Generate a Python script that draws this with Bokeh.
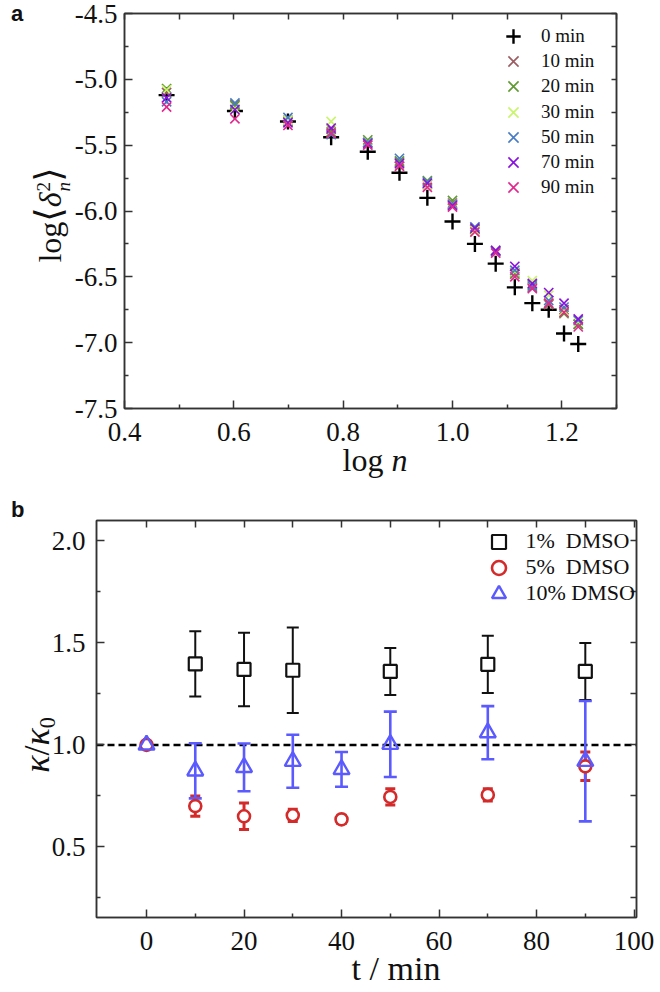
from bokeh.plotting import figure
from bokeh.models import (Range1d, FixedTicker, PrintfTickFormatter, LinearAxis, Legend,
                          LegendItem, Whisker, TeeHead, Span, ColumnDataSource, Div)
from bokeh.embed import file_html
from bokeh.resources import INLINE

# ---------------- panel a data ----------------
log_n = [0.477, 0.602, 0.699, 0.778, 0.845, 0.903, 0.954, 1.000, 1.041, 1.079, 1.114, 1.146, 1.176, 1.204, 1.230]
msd_0min  = [-5.12, -5.24, -5.32, -5.44, -5.55, -5.71, -5.90, -6.08, -6.25, -6.40, -6.58, -6.70, -6.75, -6.93, -7.01]
msd_10min = [-5.10, -5.19, -5.31, -5.38, -5.48, -5.63, -5.80, -5.94, -6.14, -6.30, -6.48, -6.58, -6.71, -6.75, -6.86]
msd_20min = [-5.07, -5.20, -5.32, -5.40, -5.46, -5.62, -5.77, -5.92, -6.14, -6.31, -6.47, -6.56, -6.70, -6.78, -6.86]
msd_30min = [-5.08, -5.22, -5.31, -5.32, -5.48, -5.65, -5.80, -5.95, -6.15, -6.30, -6.46, -6.53, -6.64, -6.76, -6.84]
msd_50min = [-5.17, -5.18, -5.29, -5.42, -5.48, -5.60, -5.78, -5.95, -6.12, -6.31, -6.45, -6.57, -6.68, -6.73, -6.83]
msd_70min = [-5.14, -5.23, -5.33, -5.37, -5.49, -5.64, -5.79, -5.96, -6.13, -6.30, -6.42, -6.55, -6.62, -6.70, -6.82]
msd_90min = [-5.21, -5.30, -5.35, -5.41, -5.50, -5.66, -5.82, -5.97, -6.16, -6.32, -6.50, -6.59, -6.70, -6.77, -6.88]
series_a_labels = ["0 min", "10 min", "20 min", "30 min", "50 min", "70 min", "90 min"]
series_a_colors = ["#000000", "#9c5c62", "#5f9a32", "#c9f56a", "#4a7cc6", "#8a10e0", "#e2288e"]

a_xticks = [0.4, 0.6, 0.8, 1.0, 1.2]
a_xminor = [0.5, 0.7, 0.9, 1.1, 1.3]
a_yticks = [-7.5, -7.0, -6.5, -6.0, -5.5, -5.0, -4.5]
a_yminor = [-7.25, -6.75, -6.25, -5.75, -5.25, -4.75]

# ---------------- panel b data ----------------
t_1pct = [10, 20, 30, 50, 70, 90]
k_1pct = [1.397, 1.370, 1.366, 1.360, 1.395, 1.360]
e_1pct = [0.160, 0.180, 0.210, 0.115, 0.140, 0.140]
t_5pct = [0, 10, 20, 30, 40, 50, 70, 90]
k_5pct = [1.000, 0.700, 0.650, 0.655, 0.635, 0.745, 0.755, 0.895]
e_5pct = [0.000, 0.050, 0.065, 0.030, 0.020, 0.040, 0.030, 0.070]
t_10pct = [0, 10, 20, 30, 40, 50, 70, 90]
k_10pct = [1.000, 0.873, 0.890, 0.920, 0.880, 1.003, 1.060, 0.920]
e_10pct = [0.000, 0.135, 0.117, 0.130, 0.085, 0.160, 0.130, 0.295]
series_b_labels = ["1%\u00a0\u00a0DMSO", "5%\u00a0\u00a0DMSO", "10% DMSO"]

b_xticks = [0, 20, 40, 60, 80, 100]
b_xminor = [10, 30, 50, 70, 90]
b_yticks = [0.5, 1.0, 1.5, 2.0]
b_yminor = [0.25, 0.75, 1.25, 1.75]
reference_level = 1.0

SERIF = "Liberation Serif"
AX = "#333333"
TICK_FS = "27px"


def style_axes(p, lbl_standoff_x, lbl_standoff_y):
    for ax in p.xaxis + p.yaxis:
        ax.axis_line_color = AX
        ax.axis_line_width = 1.5
        ax.major_tick_line_color = AX
        ax.minor_tick_line_color = AX
        ax.major_tick_line_width = 1.5
        ax.minor_tick_line_width = 1.5
        ax.major_tick_in = 8
        ax.major_tick_out = 0
        ax.minor_tick_in = 4
        ax.minor_tick_out = 0
        ax.major_label_text_font = SERIF
        ax.major_label_text_font_size = TICK_FS
        ax.major_label_text_color = "#111111"
    p.xaxis.major_label_standoff = lbl_standoff_x
    p.yaxis.major_label_standoff = lbl_standoff_y
    p.xgrid.visible = False
    p.ygrid.visible = False
    p.outline_line_color = AX
    p.outline_line_width = 1.5


def mirror(p, side, ticks, length):
    ax = LinearAxis(ticker=FixedTicker(ticks=ticks, minor_ticks=[]),
                    major_label_overrides={t: "" for t in ticks},
                    major_label_text_font_size="1px", major_label_standoff=0,
                    major_tick_in=length, major_tick_out=0, minor_tick_in=0, minor_tick_out=0,
                    axis_line_color=AX, axis_line_width=1.5,
                    major_tick_line_color=AX, major_tick_line_width=1.5)
    p.add_layout(ax, side)


def item_legends(p, items, x, y_top, pitch, box, standoff, fs):
    # one small legend per entry, stacked by hand so the symbols can be large
    for i, it in enumerate(items):
        p.add_layout(Legend(items=[it], location=(x, y_top - pitch * i - box / 2),
                            glyph_width=box, glyph_height=box, label_height=box,
                            spacing=0, padding=0, margin=0, label_standoff=standoff,
                            label_text_font=SERIF, label_text_font_size=fs,
                            label_text_color="#111111",
                            border_line_color=None, background_fill_color=None))


# ---------------- panel a ----------------
pa = figure(width=660, height=480, output_backend="svg", toolbar_location=None,
            x_range=Range1d(0.4, 1.3), y_range=Range1d(-7.5, -4.5),
            min_border_left=124, min_border_right=44, min_border_top=13, min_border_bottom=72)
pa.xaxis.ticker = FixedTicker(ticks=a_xticks, minor_ticks=a_xminor)
pa.yaxis.ticker = FixedTicker(ticks=a_yticks, minor_ticks=a_yminor)
pa.xaxis.formatter = PrintfTickFormatter(format="%.1f")
pa.yaxis.formatter = PrintfTickFormatter(format="%.1f")
style_axes(pa, 14, 7)
mirror(pa, "above", sorted(a_xticks + a_xminor), 6)
mirror(pa, "right", sorted(a_yticks + a_yminor), 5)

a_series = [msd_0min, msd_10min, msd_20min, msd_30min, msd_50min, msd_70min, msd_90min]
a_items = []
for i, (vals, name, col) in enumerate(zip(a_series, series_a_labels, series_a_colors)):
    src = ColumnDataSource(dict(x=log_n, y=vals))
    if i == 0:
        r = pa.scatter("x", "y", source=src, marker="cross", size=16, line_width=2.4, line_color=col)
    else:
        r = pa.scatter("x", "y", source=src, marker="x", size=13, line_width=1.6, line_color=col)
    a_items.append(LegendItem(label=name, renderers=[r]))

item_legends(pa, a_items, x=371, y_top=372, pitch=25.2, box=36, standoff=10, fs="19px")

# ---------------- panel b ----------------
pb = figure(width=660, height=510, output_backend="svg", toolbar_location=None,
            x_range=Range1d(-10.26, 100.5), y_range=Range1d(0.154, 2.1),
            min_border_left=96, min_border_right=24, min_border_top=40, min_border_bottom=73)
pb.xaxis.ticker = FixedTicker(ticks=b_xticks, minor_ticks=b_xminor)
pb.yaxis.ticker = FixedTicker(ticks=b_yticks, minor_ticks=b_yminor)
pb.yaxis.formatter = PrintfTickFormatter(format="%.1f")
style_axes(pb, 14, 11)
mirror(pb, "above", sorted(b_xticks + b_xminor), 7)
mirror(pb, "right", sorted(b_yticks + b_yminor), 6)

pb.add_layout(Span(location=reference_level, dimension="width", line_color="#000000",
                   line_width=2.5, line_dash="7 4", level="underlay"))


def whisk(p, ts, ks, es, color, lw, cap):
    sel = [i for i, e in enumerate(es) if e > 0]
    src = ColumnDataSource(dict(t=[ts[i] for i in sel],
                                up=[ks[i] + es[i] for i in sel],
                                lo=[ks[i] - es[i] for i in sel]))
    p.add_layout(Whisker(source=src, base="t", upper="up", lower="lo", dimension="height",
                         line_color=color, line_width=lw, level="underlay",
                         upper_head=TeeHead(size=cap, line_color=color, line_width=lw),
                         lower_head=TeeHead(size=cap, line_color=color, line_width=lw)))


whisk(pb, t_1pct, k_1pct, e_1pct, "#111111", 2.0, 12)
whisk(pb, t_5pct, k_5pct, e_5pct, "#d42a2a", 3.0, 10)
whisk(pb, t_10pct, k_10pct, e_10pct, "#5a5aff", 2.6, 13)

r1 = pb.scatter(t_1pct, k_1pct, marker="square", size=13, line_width=2.2,
                line_color="#111111", fill_color="white")
r5 = pb.scatter(t_5pct, k_5pct, marker="circle", size=12, line_width=2.6,
                line_color="#d42a2a", fill_color="white")
r10 = pb.scatter(t_10pct, k_10pct, marker="triangle", size=16, line_width=2.4,
                 line_color="#5a5aff", fill_alpha=0)

b_items = [LegendItem(label=series_b_labels[0], renderers=[r1]),
           LegendItem(label=series_b_labels[1], renderers=[r5]),
           LegendItem(label=series_b_labels[2], renderers=[r10])]
item_legends(pb, b_items, x=384.5, y_top=376, pitch=26, box=35, standoff=10, fs="22px")

# ---------------- titles and panel letters (HTML text over the canvases) ----------------
FONT = "'Liberation Serif','DejaVu Serif',serif"


def txt(left, top, html, size, extra="", font=FONT, weight="normal"):
    return (f'<div style="position:absolute;left:{left}px;top:{top}px;font-size:{size}px;'
            f'line-height:1;white-space:nowrap;font-family:{font};font-weight:{weight};'
            f'color:#111;{extra}">{html}</div>')


ROT = "transform:translate(-50%,-50%) rotate(-90deg);"
HC = "transform:translateX(-50%);"
stack = ('<span style="display:inline-flex;flex-direction:column;font-size:0.6em;'
         'line-height:1;vertical-align:middle;margin-left:1px;"><span>2</span><i>n</i></span>')
y_title_a = (f'log<span style="font-size:1.15em">&#x27E8;</span><i>&#x03B4;</i>{stack}'
             f'<span style="font-size:1.15em">&#x27E9;</span>')
y_title_b = '<i>&#x03BA;</i>/<i>&#x03BA;</i><span style="font-size:0.62em;vertical-align:-0.25em">0</span>'

overlay_html = "".join([
    txt(-2, -10, "a", 22, font="'Liberation Sans',Arial,sans-serif", weight="bold"),
    txt(-2, 486, "b", 22, font="'Liberation Sans',Arial,sans-serif", weight="bold"),
    txt(362, 431, "log <i>n</i>", 32, HC),
    txt(39, 202, y_title_a, 32, ROT),
    txt(383, 939, "t / min", 34, HC),
    txt(26, 732, y_title_b, 36, ROT),
])
overlay = Div(text=overlay_html, width=644, height=976,
              styles={"position": "absolute", "left": "8px", "top": "8px", "overflow": "visible"})

p = [pa, pb, overlay]
open("out.html", "w").write(file_html(p, INLINE))
